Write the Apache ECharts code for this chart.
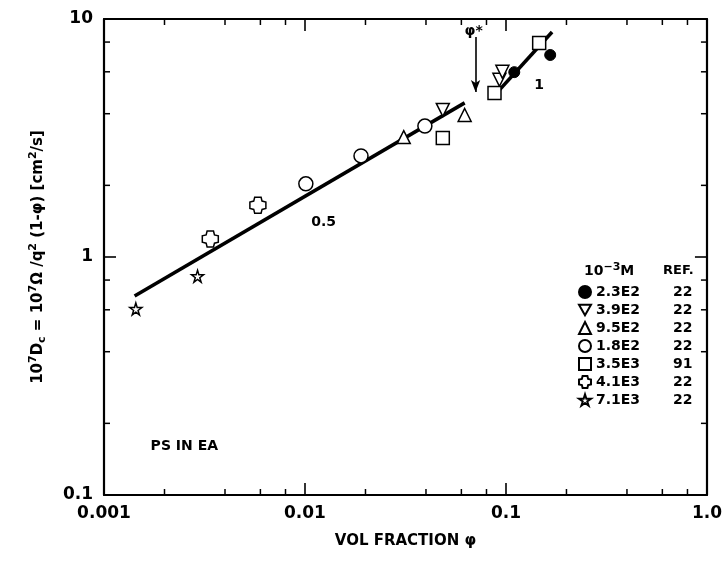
<!DOCTYPE html>
<html><head><meta charset="utf-8">
<script src="https://cdn.jsdelivr.net/npm/echarts@6/dist/echarts.min.js"></script>
<style>html,body{margin:0;padding:0;background:#fff}#c{width:725px;height:565px}</style>
</head><body><div id="c"></div>
<script>
// ---------- data ----------
const seriesNames = ['2.3E2', '3.9E2', '9.5E2', '1.8E2', '3.5E3', '4.1E3', '7.1E3'];
const seriesRefs  = ['22', '22', '22', '22', '91', '22', '22'];

const pts_2_3E2 = [[0.110, 5.98], [0.166, 7.06]];
const pts_3_9E2 = [[0.0485, 4.15], [0.0928, 5.55], [0.096, 6.0]];
const pts_9_5E2 = [[0.031, 3.19], [0.0623, 3.95]];
const pts_1_8E2 = [[0.0101, 2.03], [0.019, 2.66], [0.0395, 3.55]];
const pts_3_5E3 = [[0.0485, 3.16], [0.0877, 4.89], [0.1463, 7.92]];
const pts_4_1E3 = [[0.00338, 1.19], [0.00583, 1.65]];
const pts_7_1E3 = [[0.00144, 0.605], [0.00292, 0.83]];

const fitSlopeHalf = [[0.00142, 0.686], [0.0623, 4.44]];
const fitSlopeOne  = [[0.0907, 4.93], [0.1696, 8.82]];
const phiStarArrow = [[0.0706, 8.4], [0.0706, 4.93]];

const xTickLabels = ['0.001', '0.01', '0.1', '1.0'];
const yTickLabels = ['0.1', '1', '10'];
const xMinorTicks = [0.002, 0.004, 0.006, 0.008, 0.02, 0.04, 0.06, 0.08, 0.2, 0.4, 0.6, 0.8];
const yMinorTicks = [0.2, 0.4, 0.6, 0.8, 2, 4, 6, 8];

const annotTexts = ['0.5', '1', 'PS IN EA', 'φ*'];
const annotX = [0.01237, 0.1463, 0.00251, 0.0690];
const annotY = [1.40, 5.28, 0.1607, 8.9];

// ---------- styling ----------
const FONT = 'DejaVu Sans';
const X_MIN = 0.001, X_MAX = 1, Y_MIN = 0.1, Y_MAX = 10;
const hollow = { color: '#fff', borderColor: '#000', borderWidth: 1.5, opacity: 1 };
const filled = { color: '#000', borderColor: '#000', borderWidth: 1, opacity: 1 };
const STAR = 'path://M50,0 L61,35 L98,35 L68,57 L79,91 L50,70 L21,91 L32,57 L2,35 L39,35 Z';
const NOTCHED = 'path://M30,0 L70,0 L76,24 L100,30 L100,70 L76,76 L70,100 L30,100 L24,76 L0,70 L0,30 L24,24 Z';
const INV_TRI = 'path://M0,0 L100,0 L50,87 Z';

const seriesData = [pts_2_3E2, pts_3_9E2, pts_9_5E2, pts_1_8E2, pts_3_5E3, pts_4_1E3, pts_7_1E3];
const seriesSymbols = ['circle', INV_TRI, 'triangle', 'circle', 'rect', NOTCHED, STAR];
const seriesSize = [11, 13, 13, 14, 13, 16, 12];
const seriesStyle = [filled, hollow, hollow, hollow, hollow, hollow, hollow];

const chart = echarts.init(document.getElementById('c'), null, { renderer: 'canvas' });

const scatterSeries = seriesNames.map((n, i) => ({
  type: 'scatter', name: n, data: seriesData[i],
  symbol: seriesSymbols[i], symbolSize: seriesSize[i],
  itemStyle: seriesStyle[i], z: 5, silent: true
}));

const tickLen = 6;
const minorTickX = {
  type: 'custom', silent: true, z: 4,
  data: xMinorTicks.map(v => [v, Y_MIN]),
  renderItem: (params, api) => {
    const b = api.coord([api.value(0), Y_MIN]);
    const t = api.coord([api.value(0), Y_MAX]);
    const st = { stroke: '#000', lineWidth: 1.5 };
    return { type: 'group', children: [
      { type: 'line', shape: { x1: b[0], y1: b[1], x2: b[0], y2: b[1] - tickLen }, style: st },
      { type: 'line', shape: { x1: t[0], y1: t[1], x2: t[0], y2: t[1] + tickLen }, style: st }
    ]};
  }
};
const minorTickY = {
  type: 'custom', silent: true, z: 4,
  data: yMinorTicks.map(v => [X_MIN, v]),
  renderItem: (params, api) => {
    const l = api.coord([X_MIN, api.value(1)]);
    const r = api.coord([X_MAX, api.value(1)]);
    const st = { stroke: '#000', lineWidth: 1.5 };
    return { type: 'group', children: [
      { type: 'line', shape: { x1: l[0], y1: l[1], x2: l[0] + tickLen, y2: l[1] }, style: st },
      { type: 'line', shape: { x1: r[0], y1: r[1], x2: r[0] - tickLen, y2: r[1] }, style: st }
    ]};
  }
};

const lineStyleFit = { color: '#000', width: 3.6 };
const annotSeries = {
  type: 'scatter', silent: true, symbolSize: 0, z: 6,
  itemStyle: { opacity: 1 },
  data: annotTexts.map((t, i) => ({ name: t, value: [annotX[i], annotY[i]] })),
  label: {
    show: true, position: 'inside', formatter: p => p.name,
    fontFamily: FONT, fontWeight: 'bold', fontSize: 14, color: '#000', opacity: 1
  }
};

const axisCommonX = {
  type: 'log', logBase: 10, min: X_MIN, max: X_MAX,
  axisLine: { show: true, lineStyle: { color: '#000', width: 2.2 } },
  axisTick: { show: true, inside: true, length: 12, lineStyle: { color: '#000', width: 1.6 } },
  splitLine: { show: false }
};
const axisCommonY = {
  type: 'log', logBase: 10, min: Y_MIN, max: Y_MAX,
  axisLine: { show: true, lineStyle: { color: '#000', width: 2.2 } },
  axisTick: { show: true, inside: true, length: 12, lineStyle: { color: '#000', width: 1.6 } },
  splitLine: { show: false }
};

chart.setOption({
  animation: false,
  backgroundColor: '#fff',
  grid: { left: 104, right: 14, top: 19, bottom: 70 },
  xAxis: [
    Object.assign({}, axisCommonX, {
      position: 'bottom',
      name: 'VOL FRACTION φ', nameLocation: 'middle', nameGap: 39,
      nameTextStyle: { fontFamily: FONT, fontWeight: 'bold', fontSize: 15, color: '#000' },
      axisLabel: { margin: 10, fontFamily: FONT, fontWeight: 'bold', fontSize: 17, color: '#000',
        formatter: (v, i) => xTickLabels[i] }
    }),
    Object.assign({}, axisCommonX, { position: 'top', axisLabel: { show: false } })
  ],
  yAxis: [
    Object.assign({}, axisCommonY, {
      position: 'left',
      name: '{n|10}{s|7}{n|D}{b|c}{n| = 10}{s|7}{n|Ω /q}{s|2}{n| (1-φ) [cm}{s|2}{n|/s]}',
      nameLocation: 'middle', nameGap: 53, nameRotate: 90,
      nameTextStyle: {
        fontFamily: FONT, fontWeight: 'bold', fontSize: 15, color: '#000',
        rich: {
          n: { fontFamily: FONT, fontWeight: 'bold', fontSize: 15, color: '#000', lineHeight: 26 },
          s: { fontFamily: FONT, fontWeight: 'bold', fontSize: 11, color: '#000', lineHeight: 26, padding: [0, 0, 10, 0] },
          b: { fontFamily: FONT, fontWeight: 'bold', fontSize: 11, color: '#000', lineHeight: 26, padding: [8, 0, 0, 0] }
        }
      },
      axisLabel: { margin: 11, fontFamily: FONT, fontWeight: 'bold', fontSize: 17, color: '#000',
        formatter: (v, i) => yTickLabels[i] }
    }),
    Object.assign({}, axisCommonY, { position: 'right', axisLabel: { show: false } })
  ],
  legend: {
    data: seriesNames,
    orient: 'vertical', left: 573, top: 280,
    itemWidth: 12, itemHeight: 12, itemGap: 4,
    selectedMode: false,
    formatter: name => '{a|' + name + '}{b|' + seriesRefs[seriesNames.indexOf(name)] + '}',
    textStyle: {
      rich: {
        a: { fontFamily: FONT, fontWeight: 'bold', fontSize: 14, color: '#000', width: 77, lineHeight: 14 },
        b: { fontFamily: FONT, fontWeight: 'bold', fontSize: 14, color: '#000', lineHeight: 14 }
      }
    }
  },
  graphic: [
    { type: 'text', left: 584, top: 262, style: {
      text: '{n|10}{s|−3}{n|M}', rich: {
        n: { fontFamily: FONT, fontWeight: 'bold', fontSize: 14, fill: '#000', lineHeight: 20 },
        s: { fontFamily: FONT, fontWeight: 'bold', fontSize: 11, fill: '#000', lineHeight: 20, padding: [0, 0, 8, 0] }
      } } },
    { type: 'text', left: 663, top: 264, style: {
      text: 'REF.', fontFamily: FONT, fontWeight: 'bold', fontSize: 13, fill: '#000' } }
  ],
  series: [
    { type: 'line', name: 'fitHalf', data: fitSlopeHalf, symbol: 'none', silent: true, z: 3, lineStyle: lineStyleFit },
    { type: 'line', name: 'fitOne', data: fitSlopeOne, symbol: 'none', silent: true, z: 3, lineStyle: lineStyleFit },
    { type: 'line', name: 'arrow', data: [], silent: true, z: 3,
      markLine: { silent: true, symbol: ['none', 'arrow'], symbolSize: [7, 12],
        label: { show: false },
        lineStyle: { color: '#000', width: 1.6, type: 'solid' },
        data: [[{ coord: phiStarArrow[0] }, { coord: phiStarArrow[1] }]] } },
    minorTickX, minorTickY, annotSeries
  ].concat(scatterSeries)
});
</script></body></html>
